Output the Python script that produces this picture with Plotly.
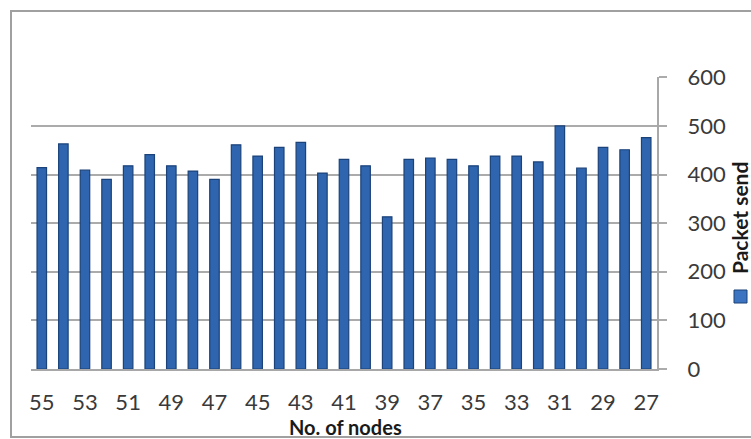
import plotly.graph_objects as go

nodes = [str(n) for n in range(55, 26, -1)]
packet_send = [414, 463, 409, 390, 418, 441, 418, 407, 390, 461, 438, 456, 466, 403, 431,
               418, 313, 431, 434, 431, 418, 438, 438, 426, 500, 413, 456, 451, 476]
tick_labels = [str(n) for n in range(55, 26, -2)]
y_ticks = [0, 100, 200, 300, 400, 500, 600]

W, H = 751, 439
L, R, T, B = 31, 94, 77, 70
pw, ph = W - L - R, H - T - B

def px_x(x):
    return (x - L) / pw

def px_y(y):
    return (H - B - y) / ph

fig = go.Figure()
fig.add_trace(go.Bar(
    x=nodes, y=packet_send, name="Packet send",
    marker=dict(color="#2f65ae", line=dict(color="#1b4279", width=1.2)),
    showlegend=False,
))

font = "Lato, 'Open Sans', sans-serif"
fig.update_layout(
    width=W, height=H,
    margin=dict(l=L, r=R, t=T, b=B, pad=0, autoexpand=False),
    paper_bgcolor="white", plot_bgcolor="white",
    bargap=0.56,
    font=dict(family=font, color="#3a3a3a"),
    xaxis=dict(
        type="category", tickmode="array", tickvals=tick_labels, ticktext=tick_labels,
        showgrid=False, showline=True, linecolor="#a8a8a8", linewidth=2,
        ticks="", tickfont=dict(size=22, color="#3a3a3a"), ticklabelstandoff=13,
        automargin=False,
    ),
    yaxis=dict(
        side="right", range=[0, 600.6], tickvals=y_ticks,
        showgrid=True, gridcolor="#ababab", gridwidth=2,
        showline=True, linecolor="#a8a8a8", linewidth=2,
        ticks="outside", ticklen=8, tickcolor="#ababab", tickwidth=2,
        tickfont=dict(size=22, color="#3a3a3a"), ticklabelstandoff=16,
        zeroline=False, automargin=False,
    ),
    annotations=[
        dict(text="<b>No. of nodes</b>", xref="paper", yref="paper",
             x=px_x(345), y=px_y(427), showarrow=False,
             font=dict(size=20, color="#1a1a1a", family=font), xanchor="center", yanchor="middle"),
        dict(text="<b>Packet send</b>", xref="paper", yref="paper",
             x=px_x(739), y=px_y(218), showarrow=False, textangle=-90,
             font=dict(size=21, color="#1a1a1a", family=font), xanchor="center", yanchor="middle"),
    ],
    shapes=[
        dict(type="rect", xref="paper", yref="paper",
             x0=px_x(11), x1=px_x(770), y0=px_y(437), y1=px_y(11),
             line=dict(color="#a0a0a0", width=2), fillcolor="rgba(0,0,0,0)", layer="below"),
        dict(type="rect", xref="paper", yref="paper",
             x0=px_x(734), x1=px_x(747), y0=px_y(303), y1=px_y(290),
             line=dict(color="#1b4279", width=1), fillcolor="#3c74c2"),
    ],
)

fig.write_html("out.html", config={"displayModeBar": False},
               post_script="document.body.style.margin='0';document.body.style.overflow='hidden';")
